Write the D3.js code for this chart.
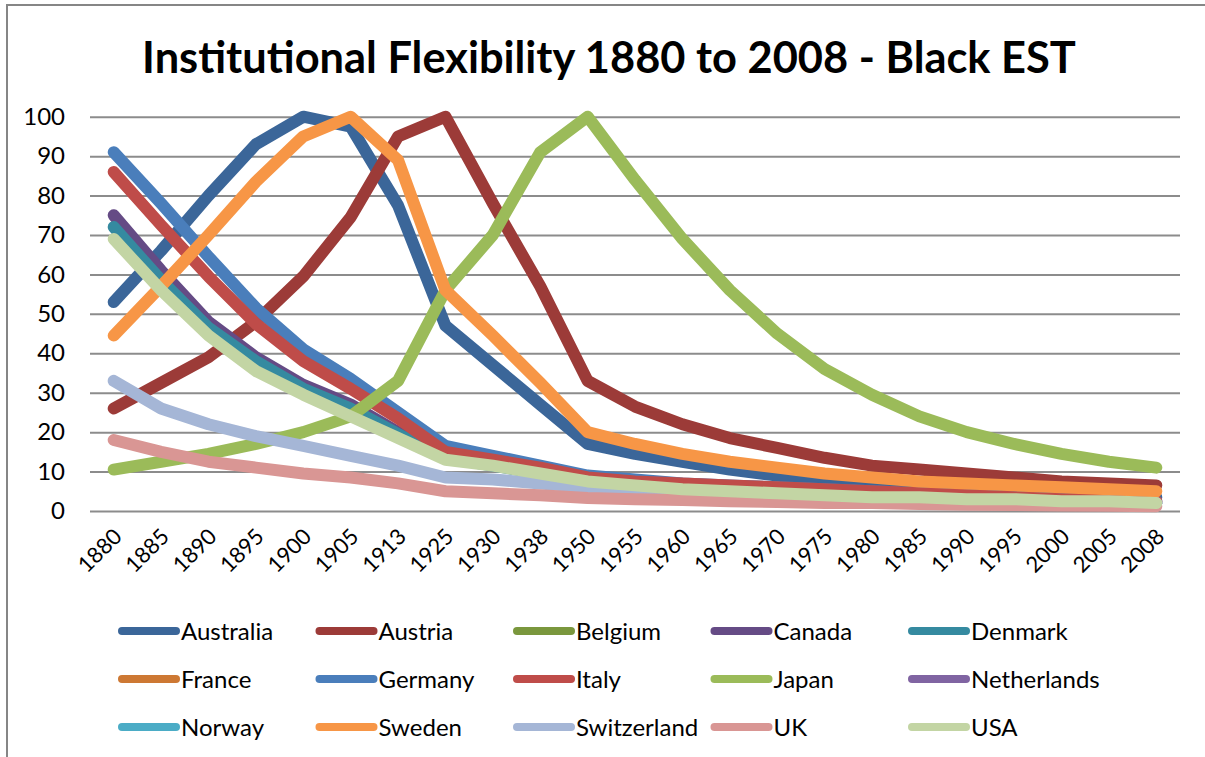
<!DOCTYPE html>
<html>
<head>
<meta charset="utf-8">
<script src="https://cdn.jsdelivr.net/npm/d3@7/dist/d3.min.js"></script>
<style>
  html, body { margin: 0; padding: 0; background: #fff; }
  svg { display: block; }
  text { font-family: Lato, "Open Sans", sans-serif; fill: #000; }
</style>
</head>
<body>
<svg id="chart" width="1205" height="757"></svg>
<script>
// Survey years on the category axis
const years = ["1880","1885","1890","1895","1900","1905","1913","1925","1930","1938","1950",
  "1955","1960","1965","1970","1975","1980","1985","1990","1995","2000","2005","2008"];

const yTicks = [0, 10, 20, 30, 40, 50, 60, 70, 80, 90, 100];

// Country names, legend order (also drawing order)
const countries = ["Australia","Austria","Belgium","Canada","Denmark","France","Germany","Italy",
  "Japan","Netherlands","Norway","Sweden","Switzerland","UK","USA"];

const colors = ["#3b6699","#9c3b38","#7a973d","#654b85","#358aa0","#cd7833","#4a7ebb","#bf4c49",
  "#9bbb59","#8064a2","#4bacc6","#f79646","#a5b6d6","#d99694","#c3d5a4"];

// Flexibility index per country (null = no value plotted)
const australia   = [53, 66, 80, 93, 100, 97.5, 77.5, 47, 37, 27, 17, 14.5, 12.5, 10.5, 9, 7.5, 6.5, 5.5, 5, 4.5, 4, 3.5, 3.5];
const austria     = [26, 32.5, 39, 48, 59.5, 74.5, 95, 100, 78, 57, 33, 26.5, 22, 18.5, 16, 13.5, 11.5, 10.5, 9.5, 8.5, 7.5, 7, 6.5];
const belgium     = Array(years.length).fill(null);
const canada      = [75, 61, 48, 39, 32, 27, 20, 14, 12, 10, 8, 7, 6, 5.5, 5, 4.5, 4, 3.5, 3, 3, 2.5, 2.5, 2];
const denmark     = [72, 58.5, 46.5, 38, 31, 26, 19.5, 13.5, 11.5, 9.5, 7.5, 6.5, 6, 5.5, 5, 4.5, 4, 3.5, 3, 3, 2.5, 2.5, 2];
const france      = Array(years.length).fill(null);
const germany     = [91, 78, 64.5, 51.5, 41, 33.5, 25, 16.5, 14, 11.5, 9, 8, 7, 6.5, 6, 5.5, 5, 4.5, 4, 3.5, 3, 3, 2.5];
const italy       = [86, 72.5, 59.5, 47.5, 38, 31, 23.5, 15, 13, 11, 8.5, 7.5, 7, 6.5, 6, 5.5, 5, 4.5, 4, 3.5, 3, 3, 2.5];
const japan       = [10.5, 12.5, 14.5, 17, 20, 24, 33, 56, 70, 91, 100, 84, 69, 56, 45, 36, 29.5, 24, 20, 17, 14.5, 12.5, 11];
const netherlands = Array(years.length).fill(null);
const norway      = Array(years.length).fill(null);
const sweden      = [44.5, 57, 70, 83.5, 95, 100, 89, 56, 44.5, 32.5, 20, 17, 14.5, 12.5, 11, 9.5, 8.5, 7.5, 7, 6.5, 6, 5.5, 5];
const switzerland = [33, 26, 22, 19, 16.5, 14, 11.5, 8.5, 8, 7, 6, 5.5, 5, 4.5, 4, 3.5, 3, 3, 2.5, 2.5, 2, 2, 2];
const uk          = [18, 15, 12.5, 11, 9.5, 8.5, 7, 5, 4.5, 4, 3.3, 3, 2.8, 2.5, 2.3, 2, 2, 1.8, 1.6, 1.5, 1.4, 1.3, 1.2];
const usa         = [69, 56, 44.5, 35.5, 29.5, 24, 18.5, 13, 11.5, 9.5, 7.5, 6.5, 5.5, 5, 4.5, 4, 3.5, 3.5, 3, 3, 2.5, 2.5, 2];

const seriesValues = [australia, austria, belgium, canada, denmark, france, germany, italy,
  japan, netherlands, norway, sweden, switzerland, uk, usa];

const series = countries.map((name, i) => ({ name, color: colors[i], values: seriesValues[i] }));

const svg = d3.select("#chart");
const W = 1205, H = 757;

svg.append("rect").attr("width", W).attr("height", H).attr("fill", "#fff");

// chart area frame (left and top edges)
svg.append("path")
  .attr("d", `M7,${H} V5 H${W + 5}`)
  .attr("fill", "none").attr("stroke", "#868686").attr("stroke-width", 2);

const plot = { left: 90, right: 1180, top: 116.7, bottom: 511 };

const x = d3.scalePoint().domain(years).range([plot.left, plot.right]).padding(0.5);
const y = d3.scaleLinear().domain([0, 100]).range([plot.bottom, plot.top]);

// horizontal gridlines
const yAxis = d3.axisLeft(y).tickValues(yTicks).tickSize(-(plot.right - plot.left)).tickPadding(25);
const gy = svg.append("g").attr("transform", `translate(${plot.left},0)`).call(yAxis);
gy.select(".domain").remove();
gy.selectAll(".tick line").attr("stroke", "#8c8c8c").attr("stroke-width", 2);
gy.selectAll(".tick text").attr("font-size", 24).attr("font-family", "Lato").attr("fill", "#000");

// category labels, rotated
const xAxis = d3.axisBottom(x).tickSize(0).tickPadding(0);
const gx = svg.append("g").attr("transform", `translate(0,${plot.bottom})`).call(xAxis);
gx.select(".domain").remove();
gx.selectAll(".tick text")
  .attr("font-size", 22).attr("font-family", "Lato").attr("fill", "#000")
  .attr("text-anchor", "end").attr("dy", null).attr("y", null)
  .attr("transform", "translate(9,27) rotate(-45)");

// series lines
const line = d3.line()
  .defined(d => d != null)
  .x((d, i) => x(years[i]))
  .y(d => y(d));

svg.append("g").selectAll("path")
  .data(series)
  .join("path")
  .attr("d", d => line(d.values))
  .attr("fill", "none")
  .attr("stroke", d => d.color)
  .attr("stroke-width", 12)
  .attr("stroke-linejoin", "round")
  .attr("stroke-linecap", "round");

// title
const title = svg.append("text")
  .attr("x", 609).attr("y", 73)
  .attr("text-anchor", "middle")
  .attr("font-weight", "bold")
  .attr("font-size", 44)
  .text("Institutional Flexibility 1880 to 2008 - Black EST");
const tw = title.node().getComputedTextLength();
title.attr("font-size", 44 * 934 / tw);

// legend: 5 columns x 3 rows
const legend = svg.append("g");
const colStep = 197.5, rowStep = 48;
series.forEach((s, i) => {
  const col = i % 5, row = Math.floor(i / 5);
  const gx0 = 122 + col * colStep, gy0 = 631 + row * rowStep;
  const g = legend.append("g").attr("transform", `translate(${gx0},${gy0})`);
  g.append("line").attr("x1", 0).attr("x2", 54).attr("y1", 0).attr("y2", 0)
    .attr("stroke", s.color).attr("stroke-width", 8).attr("stroke-linecap", "round");
  g.append("text").attr("x", 59).attr("y", 8.5).attr("font-size", 24).text(s.name);
});
</script>
</body>
</html>
